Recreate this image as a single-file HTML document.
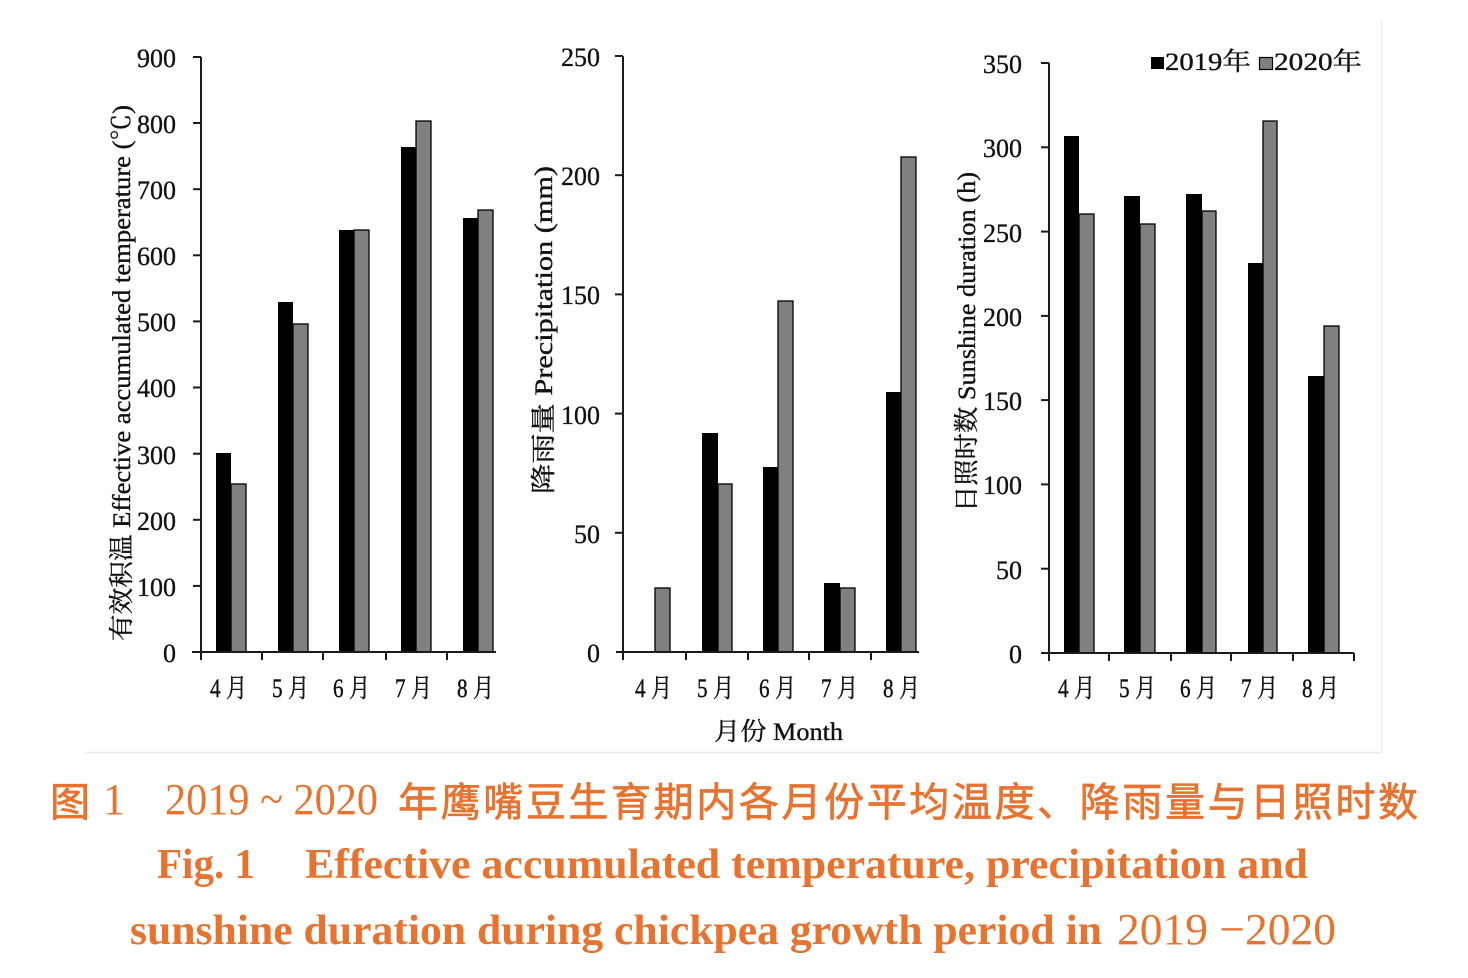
<!DOCTYPE html>
<html>
<head>
<meta charset="utf-8">
<style>
  html,body{margin:0;padding:0;background:#fff;}
  svg{display:block;}
  .tk{font-family:"Liberation Serif","Noto Serif CJK SC",serif;font-size:26px;fill:#111;stroke:#111;stroke-width:0.35;}
  .mo{font-family:"Liberation Serif","Noto Serif CJK SC",serif;font-size:26px;fill:#111;stroke:#111;stroke-width:0.4;}
  .ti{font-family:"Liberation Serif","Noto Serif CJK SC",serif;font-size:25px;fill:#111;stroke:#111;stroke-width:0.35;}
  .cap{fill:#e67330;}
</style>
</head>
<body>
<svg width="1468" height="978" viewBox="0 0 1468 978" xmlns="http://www.w3.org/2000/svg">
  <rect x="0" y="0" width="1468" height="978" fill="#fff"/>
  <!-- faint frame -->
  <line x1="85" y1="752.5" x2="1382" y2="752.5" stroke="#ebebeb" stroke-width="1.5"/>
  <line x1="1381.5" y1="20" x2="1381.5" y2="752" stroke="#efefef" stroke-width="1.5"/>

  <!-- ========== Chart 1 ========== -->
  <g fill="#000">
    <rect x="216" y="453" width="15" height="199"/>
    <rect x="278" y="302" width="15" height="350"/>
    <rect x="339" y="230" width="15" height="422"/>
    <rect x="401" y="147" width="15" height="505"/>
    <rect x="463" y="218" width="15" height="434"/>
  </g>
  <g fill="#808080" stroke="#000" stroke-width="1.3">
    <rect x="231" y="484" width="15" height="168"/>
    <rect x="293" y="324" width="15" height="328"/>
    <rect x="354" y="230" width="15" height="422"/>
    <rect x="416" y="121" width="15" height="531"/>
    <rect x="478" y="210" width="15" height="442"/>
  </g>
  <g stroke="#1a1a1a" stroke-width="2" fill="none">
    <line x1="201" y1="57" x2="201" y2="660"/>
    <line x1="192" y1="652" x2="496" y2="652"/>
    <line x1="193" y1="57" x2="201" y2="57"/>
    <line x1="193" y1="123" x2="201" y2="123"/>
    <line x1="193" y1="189.2" x2="201" y2="189.2"/>
    <line x1="193" y1="255.3" x2="201" y2="255.3"/>
    <line x1="193" y1="321.4" x2="201" y2="321.4"/>
    <line x1="193" y1="387.5" x2="201" y2="387.5"/>
    <line x1="193" y1="453.7" x2="201" y2="453.7"/>
    <line x1="193" y1="519.8" x2="201" y2="519.8"/>
    <line x1="193" y1="585.9" x2="201" y2="585.9"/>
    <line x1="262" y1="652" x2="262" y2="660"/>
    <line x1="323" y1="652" x2="323" y2="660"/>
    <line x1="386" y1="652" x2="386" y2="660"/>
    <line x1="447" y1="652" x2="447" y2="660"/>
  </g>
  <g class="tk" text-anchor="end">
    <text x="176" y="67">900</text>
    <text x="176" y="133">800</text>
    <text x="176" y="199">700</text>
    <text x="176" y="265">600</text>
    <text x="176" y="331">500</text>
    <text x="176" y="397">400</text>
    <text x="176" y="464">300</text>
    <text x="176" y="530">200</text>
    <text x="176" y="596">100</text>
    <text x="176" y="662">0</text>
  </g>
  <g class="mo">
    <text x="210" y="697" textLength="37" lengthAdjust="spacingAndGlyphs">4 月</text>
    <text x="272" y="697" textLength="37" lengthAdjust="spacingAndGlyphs">5 月</text>
    <text x="333" y="697" textLength="37" lengthAdjust="spacingAndGlyphs">6 月</text>
    <text x="395" y="697" textLength="37" lengthAdjust="spacingAndGlyphs">7 月</text>
    <text x="457" y="697" textLength="37" lengthAdjust="spacingAndGlyphs">8 月</text>
  </g>
  <text class="ti" transform="translate(130,641) rotate(-90)" textLength="536" lengthAdjust="spacingAndGlyphs">有效积温 Effective accumulated temperature (℃)</text>

  <!-- ========== Chart 2 ========== -->
  <g fill="#000">
    <rect x="702" y="433" width="16" height="219"/>
    <rect x="763" y="467" width="15" height="185"/>
    <rect x="824" y="583" width="16" height="69"/>
    <rect x="886" y="392" width="15" height="260"/>
  </g>
  <g fill="#808080" stroke="#000" stroke-width="1.3">
    <rect x="655" y="588" width="15" height="64"/>
    <rect x="718" y="484" width="14" height="168"/>
    <rect x="778" y="301" width="15" height="351"/>
    <rect x="840" y="588" width="15" height="64"/>
    <rect x="901" y="157" width="15" height="495"/>
  </g>
  <g stroke="#1a1a1a" stroke-width="2" fill="none">
    <line x1="623" y1="56" x2="623" y2="660"/>
    <line x1="616" y1="652" x2="919" y2="652"/>
    <line x1="615" y1="56" x2="623" y2="56"/>
    <line x1="615" y1="175.2" x2="623" y2="175.2"/>
    <line x1="615" y1="294.4" x2="623" y2="294.4"/>
    <line x1="615" y1="413.6" x2="623" y2="413.6"/>
    <line x1="615" y1="532.8" x2="623" y2="532.8"/>
    <line x1="686" y1="652" x2="686" y2="660"/>
    <line x1="748" y1="652" x2="748" y2="660"/>
    <line x1="809" y1="652" x2="809" y2="660"/>
    <line x1="871" y1="652" x2="871" y2="660"/>
  </g>
  <g class="tk" text-anchor="end">
    <text x="600" y="66">250</text>
    <text x="600" y="185">200</text>
    <text x="600" y="304">150</text>
    <text x="600" y="424">100</text>
    <text x="600" y="543">50</text>
    <text x="600" y="662">0</text>
  </g>
  <g class="mo">
    <text x="635" y="697" textLength="37" lengthAdjust="spacingAndGlyphs">4 月</text>
    <text x="697" y="697" textLength="37" lengthAdjust="spacingAndGlyphs">5 月</text>
    <text x="759" y="697" textLength="37" lengthAdjust="spacingAndGlyphs">6 月</text>
    <text x="821" y="697" textLength="37" lengthAdjust="spacingAndGlyphs">7 月</text>
    <text x="883" y="697" textLength="37" lengthAdjust="spacingAndGlyphs">8 月</text>
  </g>
  <text class="ti" x="714" y="740" textLength="129" lengthAdjust="spacingAndGlyphs">月份 Month</text>
  <text class="ti" transform="translate(552,494) rotate(-90)" textLength="328" lengthAdjust="spacingAndGlyphs">降雨量 Precipitation (mm)</text>

  <!-- ========== Chart 3 ========== -->
  <g fill="#000">
    <rect x="1064" y="136" width="15" height="517"/>
    <rect x="1124" y="196" width="16" height="457"/>
    <rect x="1186" y="194" width="16" height="459"/>
    <rect x="1248" y="263" width="15" height="390"/>
    <rect x="1308" y="376" width="16" height="277"/>
  </g>
  <g fill="#808080" stroke="#000" stroke-width="1.3">
    <rect x="1079" y="214" width="15" height="439"/>
    <rect x="1140" y="224" width="15" height="429"/>
    <rect x="1202" y="211" width="14" height="442"/>
    <rect x="1263" y="121" width="14" height="532"/>
    <rect x="1324" y="326" width="15" height="327"/>
  </g>
  <g stroke="#1a1a1a" stroke-width="2" fill="none">
    <line x1="1049" y1="63" x2="1049" y2="661"/>
    <line x1="1041" y1="653" x2="1354" y2="653"/>
    <line x1="1041" y1="63" x2="1049" y2="63"/>
    <line x1="1041" y1="147.3" x2="1049" y2="147.3"/>
    <line x1="1041" y1="231.6" x2="1049" y2="231.6"/>
    <line x1="1041" y1="315.9" x2="1049" y2="315.9"/>
    <line x1="1041" y1="400.1" x2="1049" y2="400.1"/>
    <line x1="1041" y1="484.4" x2="1049" y2="484.4"/>
    <line x1="1041" y1="568.7" x2="1049" y2="568.7"/>
    <line x1="1109" y1="653" x2="1109" y2="661"/>
    <line x1="1171" y1="653" x2="1171" y2="661"/>
    <line x1="1231" y1="653" x2="1231" y2="661"/>
    <line x1="1293" y1="653" x2="1293" y2="661"/>
    <line x1="1354" y1="653" x2="1354" y2="661"/>
  </g>
  <g class="tk" text-anchor="end">
    <text x="1022" y="73">350</text>
    <text x="1022" y="157">300</text>
    <text x="1022" y="242">250</text>
    <text x="1022" y="326">200</text>
    <text x="1022" y="410">150</text>
    <text x="1022" y="494">100</text>
    <text x="1022" y="579">50</text>
    <text x="1022" y="663">0</text>
  </g>
  <g class="mo">
    <text x="1058" y="697" textLength="37" lengthAdjust="spacingAndGlyphs">4 月</text>
    <text x="1119" y="697" textLength="37" lengthAdjust="spacingAndGlyphs">5 月</text>
    <text x="1180" y="697" textLength="37" lengthAdjust="spacingAndGlyphs">6 月</text>
    <text x="1241" y="697" textLength="37" lengthAdjust="spacingAndGlyphs">7 月</text>
    <text x="1302" y="697" textLength="37" lengthAdjust="spacingAndGlyphs">8 月</text>
  </g>
  <text class="ti" transform="translate(975,512) rotate(-90)" textLength="340" lengthAdjust="spacingAndGlyphs">日照时数 Sunshine duration (h)</text>

  <!-- legend -->
  <rect x="1151" y="57" width="13" height="12" fill="#000"/>
  <text class="ti" x="1165" y="70" textLength="86" lengthAdjust="spacingAndGlyphs">2019年</text>
  <rect x="1259.5" y="57.5" width="13" height="12" fill="#808080" stroke="#000" stroke-width="1.2"/>
  <text class="ti" x="1274" y="70" textLength="88" lengthAdjust="spacingAndGlyphs">2020年</text>

  <!-- ========== Caption ========== -->
  <g class="cap">
    <text x="50" y="816" font-family="'Noto Sans CJK SC',sans-serif" font-size="40" stroke="#e67330" stroke-width="0.7">图</text>
    <text x="103" y="814" font-family="'Liberation Serif',serif" font-size="44">1</text>
    <text x="165" y="814" font-family="'Liberation Serif',serif" font-size="44" textLength="213" lengthAdjust="spacingAndGlyphs">2019 ~ 2020</text>
    <text x="398" y="816" font-family="'Noto Sans CJK SC',sans-serif" font-size="40" stroke="#e67330" stroke-width="0.7" textLength="1020" lengthAdjust="spacing">年鹰嘴豆生育期内各月份平均温度、降雨量与日照时数</text>

    <text x="157" y="878" font-family="'Liberation Serif',serif" font-weight="bold" font-size="42" textLength="98" lengthAdjust="spacingAndGlyphs">Fig. 1</text>
    <text x="305" y="878" font-family="'Liberation Serif',serif" font-weight="bold" font-size="42" textLength="1003" lengthAdjust="spacingAndGlyphs">Effective accumulated temperature, precipitation and</text>

    <text x="130" y="944" font-family="'Liberation Serif',serif" font-weight="bold" font-size="42" textLength="972" lengthAdjust="spacingAndGlyphs">sunshine duration during chickpea growth period in</text>
    <text x="1117" y="944" font-family="'Liberation Serif',serif" font-size="44" textLength="219" lengthAdjust="spacingAndGlyphs">2019 −2020</text>
  </g>
</svg>
</body>
</html>
